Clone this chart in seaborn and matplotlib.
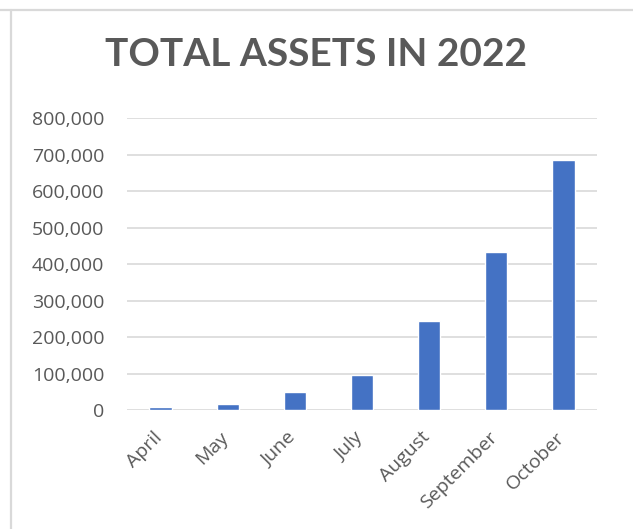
import matplotlib
matplotlib.use("Agg")
import matplotlib.pyplot as plt
import matplotlib.transforms as mtrans
from matplotlib.lines import Line2D
from matplotlib.ticker import FuncFormatter
import seaborn as sns
import pandas as pd

# Data
months = ["April", "May", "June", "July", "August", "September", "October"]
assets = [8000, 16000, 48500, 95000, 245000, 433000, 687000]

df = pd.DataFrame({"Month": months, "Assets": assets})

sns.set_style("white")
plt.rcParams["font.family"] = ["Open Sans", "DejaVu Sans"]

text_grey = "#595959"
grid_grey = "#d9d9d9"

fig = plt.figure(figsize=(6.33, 5.29), dpi=100)
ax = fig.add_axes([127 / 633, 1 - 410 / 529, 470 / 633, (410 - 118.3) / 529])

sns.barplot(data=df, x="Month", y="Assets", color="#4472C4", width=0.33,
            saturation=1, ax=ax)

ax.set_ylim(0, 800000)
ax.set_xlim(-0.5, len(months) - 0.5)
ax.set_yticks(range(0, 800001, 100000))
ax.yaxis.set_major_formatter(FuncFormatter(lambda v, p: f"{int(v):,}"))
ax.grid(axis="y", color=grid_grey, linewidth=1.2)
ax.set_axisbelow(True)
for s in ax.spines.values():
    s.set_visible(False)
ax.set_xlabel("")
ax.set_ylabel("")
ax.tick_params(axis="both", length=0, colors=text_grey, labelsize=14)
ax.tick_params(axis="y", pad=16.5)
ax.tick_params(axis="x", pad=6)

# rotated month labels, nudged a bit left and down like the original
shift = mtrans.ScaledTranslation(-0.08, -0.10, fig.dpi_scale_trans)
for lab in ax.get_xticklabels():
    lab.set_rotation(45)
    lab.set_ha("right")
    lab.set_rotation_mode("anchor")
    lab.set_transform(lab.get_transform() + shift)

fig.text(316 / 633, 1 - 54 / 529, "TOTAL ASSETS IN 2022", ha="center", va="center",
         fontsize=28, fontweight="bold", color=text_grey, family=["Lato", "DejaVu Sans"])

# chart frame lines at top and left
fig.add_artist(Line2D([0, 1], [1 - 10 / 529, 1 - 10 / 529], color=grid_grey, linewidth=1.6))
fig.add_artist(Line2D([10.5 / 633, 10.5 / 633], [0, 1 - 10 / 529], color=grid_grey, linewidth=1.6))

fig.savefig("out.png", dpi=100)
